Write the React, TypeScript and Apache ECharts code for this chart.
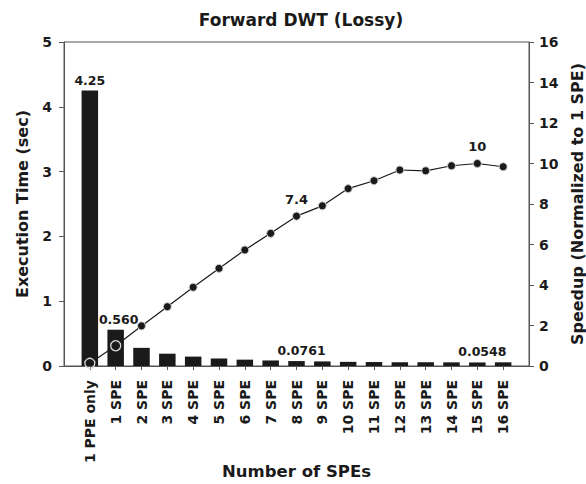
import React, { useEffect, useRef } from "react";
import * as echarts from "echarts";

// Configurations along the x axis
const categories = [
  "1 PPE only", "1 SPE", "2 SPE", "3 SPE", "4 SPE", "5 SPE", "6 SPE", "7 SPE", "8 SPE",
  "9 SPE", "10 SPE", "11 SPE", "12 SPE", "13 SPE", "14 SPE", "15 SPE", "16 SPE",
];

// Execution time in seconds (bars, left axis)
const execTime = [
  4.25, 0.56, 0.28, 0.19, 0.145, 0.116, 0.098, 0.0855, 0.0761,
  0.0707, 0.064, 0.0612, 0.0578, 0.0581, 0.0566, 0.0548, 0.0569,
];

// Speedup normalised to 1 SPE (line, right axis)
const speedup = [
  0.132, 1.0, 1.98, 2.93, 3.89, 4.82, 5.73, 6.55, 7.4,
  7.91, 8.76, 9.15, 9.68, 9.64, 9.89, 10, 9.84,
];

// Which bars / points carry a value label, and the label text
const timeLabels: Record<number, string> = { 0: "4.25", 1: "0.560", 8: "0.0761", 15: "0.0548" };
const speedLabels: Record<number, string> = { 8: "7.4", 15: "10" };
// Configurations drawn with hollow markers
const hollowPoints = [0, 1];

const leftTicks = { min: 0, max: 5, interval: 1 };
const rightTicks = { min: 0, max: 16, interval: 2 };

const FONT = "DejaVu Sans, Verdana, sans-serif";
const INK = "#1a1a1a";
const AXIS = "#555";

export default function App() {
  const ref = useRef<HTMLDivElement>(null);

  useEffect(() => {
    if (!ref.current) return;
    document.body.style.margin = "0";
    const chart = echarts.init(ref.current, null, { renderer: "svg" });

    const barData = execTime.map((v, i) => {
      const item: any = { value: [i, v] };
      if (timeLabels[i] !== undefined) {
        item.label = {
          show: true,
          position: "top",
          distance: 4,
          offset: i === 0 ? [0, 0] : i === 1 ? [3, 0] : [5, 0],
          formatter: timeLabels[i],
          fontFamily: FONT,
          fontWeight: "bold",
          fontSize: 12.5,
          color: INK,
        };
      }
      return item;
    });

    const lineData = speedup.map((v, i) => {
      const item: any = { value: [i, v] };
      if (hollowPoints.includes(i)) {
        item.itemStyle = { color: "transparent", borderColor: "#d8d8d8", borderWidth: 1.3 };
        item.symbolSize = 10;
      }
      if (speedLabels[i] !== undefined) {
        item.label = {
          show: true,
          position: "top",
          distance: 6,
          formatter: speedLabels[i],
          fontFamily: FONT,
          fontWeight: "bold",
          fontSize: 13,
          color: INK,
        };
      }
      return item;
    });

    chart.setOption({
      animation: false,
      backgroundColor: "#ffffff",
      title: {
        text: "Forward DWT (Lossy)",
        left: 296,
        textAlign: "center",
        top: 6,
        textStyle: { fontFamily: FONT, fontWeight: "bold", fontSize: 17, color: INK },
      },
      grid: {
        left: 64,
        right: 57,
        top: 42,
        bottom: 118,
        outerBoundsMode: "none",
        containLabel: false,
        show: true,
        borderColor: AXIS,
        borderWidth: 1,
        backgroundColor: "transparent",
      },
      xAxis: {
        type: "value",
        min: -1,
        max: 17,
        interval: 1,
        name: "Number of SPEs",
        nameLocation: "middle",
        nameGap: 97,
        nameMoveOverlap: false,
        nameTextStyle: { fontFamily: FONT, fontWeight: "bold", fontSize: 16.5, color: INK },
        splitLine: { show: false },
        axisLine: { show: true, onZero: false, lineStyle: { color: AXIS, width: 1 } },
        axisTick: { show: true, length: 4, lineStyle: { color: AXIS } },
        axisLabel: {
          rotate: 90,
          margin: 14,
          fontFamily: FONT,
          fontWeight: "bold",
          fontSize: 14,
          color: INK,
          showMinLabel: false,
          showMaxLabel: false,
          formatter: (v: number) => categories[v] ?? "",
        },
      },
      yAxis: [
        {
          type: "value",
          min: leftTicks.min,
          max: leftTicks.max,
          interval: leftTicks.interval,
          position: "left",
          name: "Execution Time (sec)",
          nameLocation: "middle",
          nameGap: 34,
          nameMoveOverlap: false,
          nameTextStyle: { fontFamily: FONT, fontWeight: "bold", fontSize: 16, color: INK },
          splitLine: { show: false },
          axisLine: { show: true, onZero: false, lineStyle: { color: AXIS, width: 1 } },
          axisTick: { show: true, length: 5, lineStyle: { color: AXIS } },
          axisLabel: { margin: 12, fontFamily: FONT, fontWeight: "bold", fontSize: 14, color: INK },
        },
        {
          type: "value",
          min: rightTicks.min,
          max: rightTicks.max,
          interval: rightTicks.interval,
          position: "right",
          name: "Speedup (Normalized to 1 SPE)",
          nameLocation: "middle",
          nameGap: 40,
          nameMoveOverlap: false,
          nameRotate: 90,
          nameTextStyle: { fontFamily: FONT, fontWeight: "bold", fontSize: 16, color: INK },
          splitLine: { show: false },
          axisLine: { show: true, onZero: false, lineStyle: { color: AXIS, width: 1 } },
          axisTick: { show: true, length: 5, lineStyle: { color: AXIS } },
          axisLabel: { margin: 10, fontFamily: FONT, fontWeight: "bold", fontSize: 14, color: INK },
        },
      ],
      series: [
        {
          type: "bar",
          yAxisIndex: 0,
          barWidth: 16.5,
          itemStyle: { color: INK },
          data: barData,
          z: 2,
        },
        {
          type: "line",
          yAxisIndex: 1,
          symbol: "circle",
          symbolSize: 8,
          lineStyle: { color: INK, width: 1.2 },
          itemStyle: { color: INK, borderColor: "#c8c8c8", borderWidth: 1 },
          data: lineData,
          z: 3,
        },
      ],
    });

    return () => chart.dispose();
  }, []);

  return <div ref={ref} style={{ width: 586, height: 484 }} />;
}
